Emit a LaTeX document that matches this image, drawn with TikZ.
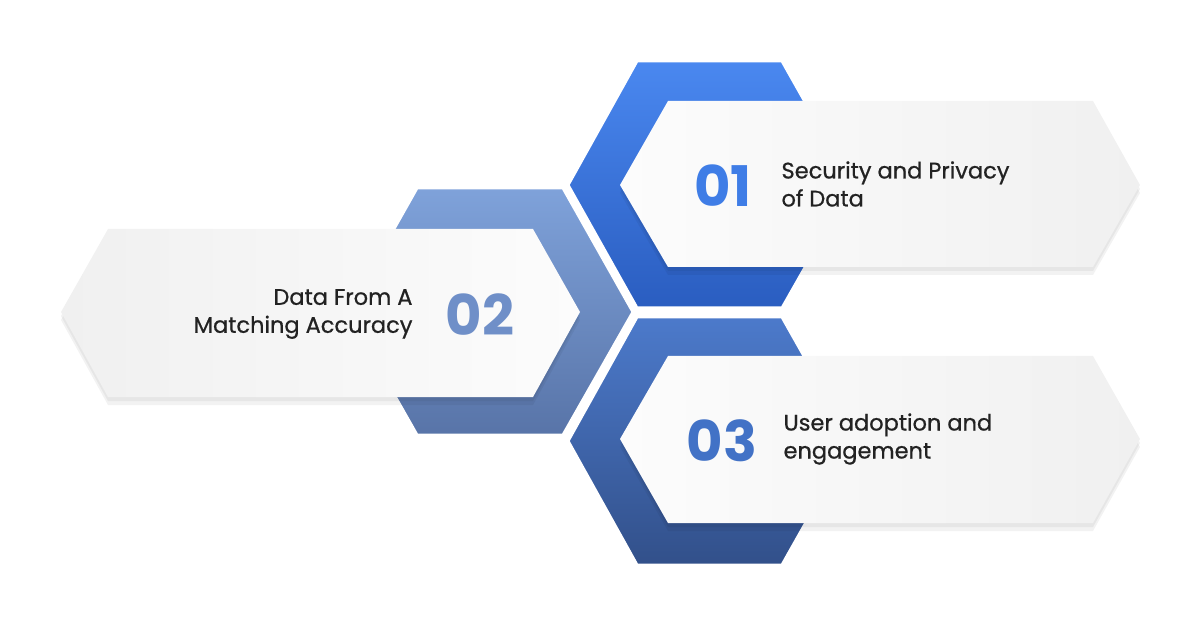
\documentclass[tikz,border=0pt]{standalone}
\usepackage{fontspec}
\setmainfont{Poppins}
\newfontfamily\lblfont{Poppins}[FakeBold=0.7]
\usetikzlibrary{calc}
\definecolor{hAt}{HTML}{4A88F0}\definecolor{hAb}{HTML}{2A5DC0}
\definecolor{hBt}{HTML}{7FA2DA}\definecolor{hBb}{HTML}{5874A8}
\definecolor{hCt}{HTML}{4C7ACB}\definecolor{hCb}{HTML}{32508A}
\definecolor{nA}{HTML}{3F7DE6}\definecolor{nB}{HTML}{6F8FC8}\definecolor{nC}{HTML}{4272C6}
\definecolor{txt}{HTML}{222222}
\definecolor{bnA}{HTML}{FCFCFC}\definecolor{bnB}{HTML}{F0F0F0}
\tikzset{
  hexring/.style={draw=white,line width=3pt},
  num/.style={font=\fontsize{56}{56}\selectfont\bfseries,text=#1},
  lbl/.style={font=\lblfont\fontsize{22.5}{28}\selectfont,text=txt,align=left,anchor=west},
  shad/.style={fill=black,opacity=0.05}
}
\begin{document}
\begin{tikzpicture}[x=1pt,y=-1pt]
\useasboundingbox (0,0) rectangle (1200,628);
% hex 2
\shade[hexring,top color=hBt,bottom color=hBb] (417,188)--(563,188)--(633,312)--(563,435)--(417,435)--(347,312)--cycle;
\foreach \d in {4,8}{\fill[shad] (61,{312+\d})--(108,{229+\d})--(533,{229+\d})--(580,{312+\d})--(533,{397+\d})--(108,{397+\d})--cycle;}
\shade[left color=bnB,right color=bnA] (61,312)--(108,229)--(533,229)--(580,312)--(533,397)--(108,397)--cycle;
% hex 1
\shade[hexring,top color=hAt,bottom color=hAb] (637,61)--(782,61)--(852,185)--(782,308)--(637,308)--(568,185)--cycle;
\foreach \d in {4,8}{\fill[shad] (620,{185+\d})--(668,{101+\d})--(1093,{101+\d})--(1140,{185+\d})--(1093,{267+\d})--(668,{267+\d})--cycle;}
\shade[left color=bnA,right color=bnB] (620,185)--(668,101)--(1093,101)--(1140,185)--(1093,267)--(668,267)--cycle;
% hex 3
\shade[hexring,top color=hCt,bottom color=hCb] (637,317)--(782,317)--(852,441)--(782,565)--(637,565)--(568,441)--cycle;
\foreach \d in {4,8}{\fill[shad] (620,{439+\d})--(668,{356+\d})--(1093,{356+\d})--(1140,{439+\d})--(1093,{523+\d})--(668,{523+\d})--cycle;}
\shade[left color=bnA,right color=bnB] (620,439)--(668,356)--(1093,356)--(1140,439)--(1093,523)--(668,523)--cycle;
% texts
\node[num=nA] (n1) at (723,186) {01};
\node[lbl] (t1) at (778,184) {Security and Privacy\\of Data};
\node[num=nB] (n2) at (480,315) {02};
\node[lbl,anchor=east,align=right] (t2) at (416,314) {Data From A\\Matching Accuracy};
\node[num=nC] (n3) at (722,441) {03};
\node[lbl] (t3) at (780,439) {User adoption and\\engagement};
\end{tikzpicture}
\end{document}
